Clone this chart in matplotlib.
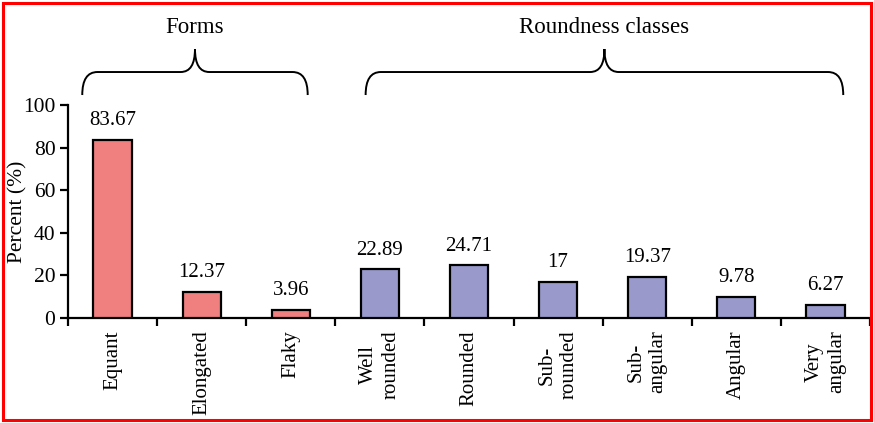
import numpy as np
import matplotlib
matplotlib.use("Agg")
import matplotlib.pyplot as plt
from matplotlib.path import Path
from matplotlib.patches import PathPatch, Rectangle

# Data
categories = ["Equant", "Elongated", "Flaky", "Well\nrounded", "Rounded",
              "Sub-\nrounded", "Sub-\nangular", "Angular", "Very\nangular"]
values = [83.67, 12.37, 3.96, 22.89, 24.71, 17, 19.37, 9.78, 6.27]
value_labels = ["83.67", "12.37", "3.96", "22.89", "24.71", "17", "19.37", "9.78", "6.27"]
groups = ["Forms", "Roundness classes"]
group_members = [[0, 1, 2], [3, 4, 5, 6, 7, 8]]
group_colors = ["#F08080", "#9999CC"]

plt.rcParams["font.family"] = ["Liberation Serif", "DejaVu Serif"]

fig = plt.figure(figsize=(8.74, 4.23), dpi=100)
ax = fig.add_axes([0.0778, 0.2482, 0.9176, 0.5035])

x = np.arange(len(categories))
colors = []
for g, members in enumerate(group_members):
    colors += [group_colors[g]] * len(members)

ax.bar(x, values, width=0.43, color=colors, edgecolor="black", linewidth=1.6, zorder=3)

for xi, v, lab in zip(x, values, value_labels):
    ax.annotate(lab, (xi, v), xytext=(0, 7), textcoords="offset points",
                ha="center", va="bottom", fontsize=15)

ax.set_xlim(-0.5, len(categories) - 0.5)
ax.set_ylim(0, 100)
ax.set_yticks([0, 20, 40, 60, 80, 100])
ax.tick_params(axis="y", direction="out", length=6, width=1.6, labelsize=15.5, pad=3)

ax.set_xticks(x)
ax.set_xticklabels(categories, rotation=90, fontsize=15, linespacing=1.2)
ax.set_xticks(np.arange(-0.5, len(categories), 1.0), minor=True)
ax.tick_params(axis="x", which="major", length=0, pad=9)
ax.tick_params(axis="x", which="minor", direction="out", length=6, width=1.6)

for side in ["top", "right"]:
    ax.spines[side].set_visible(False)
for side in ["left", "bottom"]:
    ax.spines[side].set_linewidth(1.6)

ax.set_ylabel("Percent (%)", fontsize=15.5)
ax.yaxis.set_label_coords(-0.051, 0.5)

# Curly braces over the groups
y_end, y_flat, y_tip = 104.7, 115.5, 126.3
r_end, r_tip = 0.17, 0.16
brace_pad = [(0.34, 0.19), (0.16, 0.20)]
for g, members in enumerate(group_members):
    x0 = members[0] - brace_pad[g][0]
    x1 = members[-1] + brace_pad[g][1]
    xm = (x0 + x1) / 2
    verts = [
        (x0, y_end), (x0, y_flat), (x0 + r_end, y_flat),
        (xm - r_tip, y_flat),
        (xm, y_flat), (xm, y_tip),
        (xm, y_flat), (xm + r_tip, y_flat),
        (x1 - r_end, y_flat),
        (x1, y_flat), (x1, y_end),
    ]
    codes = [Path.MOVETO, Path.CURVE3, Path.CURVE3, Path.LINETO,
             Path.CURVE3, Path.CURVE3, Path.CURVE3, Path.CURVE3,
             Path.LINETO, Path.CURVE3, Path.CURVE3]
    ax.add_patch(PathPatch(Path(verts, codes), fill=False, lw=1.4,
                           edgecolor="black", clip_on=False))
    ax.text(xm, 136.6, groups[g], ha="center", va="center", fontsize=16.5,
            clip_on=False)

# red frame around the figure
fig.patches.append(Rectangle((0.004, 0.008), 0.992, 0.985, transform=fig.transFigure,
                             fill=False, edgecolor="red", linewidth=2.2))

fig.savefig("out.png", dpi=100)
